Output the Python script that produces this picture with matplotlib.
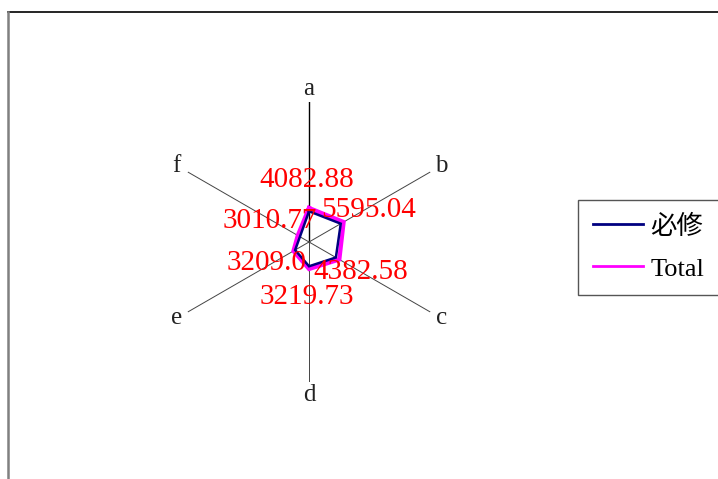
import numpy as np
import matplotlib
matplotlib.use("Agg")
import matplotlib.pyplot as plt
from matplotlib.lines import Line2D

plt.rcParams['font.family'] = ['Liberation Serif', 'Noto Sans CJK TC', 'DejaVu Sans']

# data
categories = ['a', 'b', 'c', 'd', 'e', 'f']
total_vals = [4860, 5710, 5000, 3860, 2570, 1860]
required_vals = [4390, 5230, 4430, 3470, 2290, 1500]
label_texts = ['4082.88', '5595.04', '4382.58', '3219.73', '3209.0', '3010.77']
r_max = 20000

# label offsets (pixels) from the Total vertex
label_offsets = [(-2, 28), (25, 12), (21, -13), (-2, -28), (-27, -12), (-28, 14)]

angles = np.linspace(0, 2 * np.pi, len(categories), endpoint=False)

fig = plt.figure(figsize=(7.18, 4.79), dpi=100)
ax = fig.add_axes([0.2354, 0.2025, 0.390, 0.5846], projection='polar')
ax.set_theta_offset(np.pi / 2)
ax.set_theta_direction(-1)
ax.set_ylim(0, r_max)
ax.set_xticks([])
ax.set_yticks([])
ax.grid(False)
ax.spines['polar'].set_visible(False)
ax.patch.set_alpha(0)

# spokes + category labels
for i, (ang, cat) in enumerate(zip(angles, categories)):
    ax.plot([ang, ang], [0, r_max], color='black' if i == 0 else '#444444',
            lw=1.0 if i == 0 else 0.7, zorder=1)
    ax.text(ang, r_max * 1.09, cat, ha='center', va='center', fontsize=18, color='#222222')

th = np.append(angles, angles[0])
ax.plot(th, total_vals + total_vals[:1], color='#FF00FF', lw=3.0, zorder=3,
        solid_joinstyle='miter')
ax.plot(th, required_vals + required_vals[:1], color='#000080', lw=1.8, zorder=4,
        solid_joinstyle='miter')

for ang, v, txt, off in zip(angles, total_vals, label_texts, label_offsets):
    ax.annotate(txt, xy=(ang, v), xytext=off, textcoords='offset pixels',
                ha='center', va='center', fontsize=21, color='#FF0000', zorder=5)

handles = [Line2D([], [], color='#000080', lw=2), Line2D([], [], color='#FF00FF', lw=2)]
leg = fig.legend(handles, ['必修', 'Total'], loc='upper left',
                 bbox_to_anchor=(578 / 718, 1 - 200 / 479), bbox_transform=fig.transFigure,
                 fontsize=19, handlelength=1.9, handletextpad=0.3, borderpad=0.55,
                 labelspacing=0.7, fancybox=False, framealpha=1, borderaxespad=0)
leg.get_frame().set_edgecolor('#555555')
leg.get_frame().set_linewidth(1.0)

# chart area border (partly off-image)
fig.add_artist(Line2D([8 / 718, 1.0], [1 - 12 / 479, 1 - 12 / 479], color='black', lw=1.2,
                      transform=fig.transFigure))
fig.add_artist(Line2D([8 / 718, 8 / 718], [0, 1 - 12 / 479], color='#808080', lw=1.8,
                      transform=fig.transFigure))

fig.savefig('out.png', dpi=100)
